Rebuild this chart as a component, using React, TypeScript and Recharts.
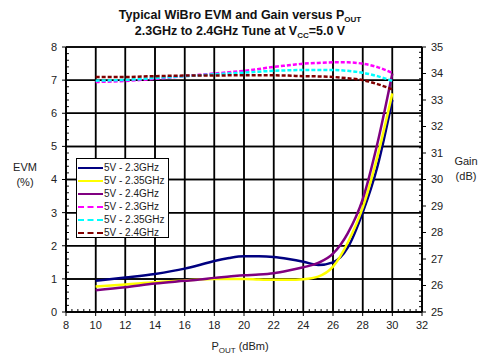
import React from 'react'
import { LineChart, Line, XAxis, YAxis, CartesianGrid } from 'recharts'

const pout = [10, 12, 14, 16, 17, 18, 19, 20, 21, 22, 23, 24, 25, 26, 27, 28, 29, 30]

const evm23 = [0.94, 1.04, 1.15, 1.31, 1.42, 1.54, 1.63, 1.68, 1.68, 1.66, 1.6, 1.52, 1.42, 1.5, 1.95, 3.0, 4.4, 6.4]
const evm235 = [0.77, 0.83, 0.9, 0.95, 0.98, 1.0, 1.0, 1.0, 0.98, 0.97, 0.97, 0.99, 1.07, 1.37, 2.1, 3.15, 4.7, 6.6]
const evm24 = [0.66, 0.75, 0.86, 0.94, 0.98, 1.03, 1.07, 1.11, 1.13, 1.17, 1.25, 1.35, 1.48, 1.76, 2.38, 3.4, 5.1, 7.2]

const gain23 = [33.68, 33.72, 33.8, 33.9, 33.95, 34.0, 34.05, 34.1, 34.17, 34.25, 34.31, 34.37, 34.4, 34.42, 34.42, 34.37, 34.24, 34.02]
const gain235 = [33.73, 33.76, 33.83, 33.9, 33.93, 33.97, 34.0, 34.03, 34.07, 34.1, 34.12, 34.13, 34.13, 34.13, 34.1, 34.03, 33.9, 33.72]
const gain24 = [33.87, 33.87, 33.9, 33.92, 33.92, 33.92, 33.93, 33.93, 33.93, 33.93, 33.92, 33.9, 33.89, 33.87, 33.82, 33.75, 33.6, 33.4]

const xTicks = [8, 10, 12, 14, 16, 18, 20, 22, 24, 26, 28, 30, 32]
const evmTicks = [0, 1, 2, 3, 4, 5, 6, 7, 8]
const gainTicks = [25, 26, 27, 28, 29, 30, 31, 32, 33, 34, 35]

const series = [
  { key: 'evm23', name: '5V - 2.3GHz', color: '#000080', axis: 0, dash: undefined, values: evm23 },
  { key: 'evm235', name: '5V - 2.35GHz', color: '#ffff00', axis: 0, dash: undefined, values: evm235 },
  { key: 'evm24', name: '5V - 2.4GHz', color: '#800080', axis: 0, dash: undefined, values: evm24 },
  { key: 'gain23', name: '5V - 2.3GHz', color: '#ff00ff', axis: 'r', dash: '4 2', values: gain23 },
  { key: 'gain235', name: '5V - 2.35GHz', color: '#00ffff', axis: 'r', dash: '4 2', values: gain235 },
  { key: 'gain24', name: '5V - 2.4GHz', color: '#800000', axis: 'r', dash: '4 2', values: gain24 },
]

const data = pout.map((x, i) => {
  const row: Record<string, number> = { x }
  series.forEach((s) => {
    row[s.key] = s.values[i]
  })
  return row
})

// grid drawn as one broken line through the axis scales (null = pen up)
type Pt = { x: number; g: number | null }
const gridPts: Pt[] = []
evmTicks.forEach((v) => gridPts.push({ x: 8, g: v }, { x: 32, g: v }, { x: 32, g: null }))
xTicks.forEach((t) => gridPts.push({ x: t, g: 0 }, { x: t, g: 8 }, { x: t, g: null }))

// minor ticks: 5 per major step, short marks pointing into the plot
const minorSteps = [0.2, 0.4, 0.6, 0.8]
const leftMinor: Pt[] = []
evmTicks.slice(0, -1).forEach((v) =>
  minorSteps.forEach((m) => leftMinor.push({ x: 8, g: v + m }, { x: 8.2, g: v + m }, { x: 8.2, g: null }))
)
const rightMinor: Pt[] = []
gainTicks.slice(0, -1).forEach((v) =>
  minorSteps.forEach((m) => rightMinor.push({ x: 31.8, g: v + m }, { x: 32, g: v + m }, { x: 32, g: null }))
)
const bottomMinor: Pt[] = []
xTicks.slice(0, -1).forEach((t) =>
  minorSteps.forEach((m) => bottomMinor.push({ x: t + 2 * m, g: 0 }, { x: t + 2 * m, g: 0.09 }, { x: t + 2 * m, g: null }))
)

const font = '"Liberation Sans", Arial, sans-serif'
const tickStyle = { fontSize: 11, fill: '#222', fontFamily: font }
const sub = { fontSize: 8, lineHeight: 0, verticalAlign: -3 }
const axisLine = { stroke: '#000', strokeWidth: 1.5 }

export default function App() {
  return (
    <div style={{ position: 'absolute', left: 0, top: 0, width: 483, height: 359, background: '#fff' }}>
      <LineChart width={483} height={359} data={data} margin={{ top: 47, left: 36, right: 31, bottom: 17 }}>
        <CartesianGrid stroke="#000" strokeWidth={1.5} />
        <XAxis
          dataKey="x"
          type="number"
          domain={[8, 32]}
          ticks={xTicks}
          interval={0}
          height={30}
          axisLine={axisLine}
          tickLine={{ stroke: '#000' }}
          tickSize={4}
          tickMargin={5}
          tick={tickStyle}
        />
        <YAxis domain={[0, 8]} ticks={evmTicks} interval={0} width={30} axisLine={axisLine} tickLine={{ stroke: '#000' }} tickSize={4} tickMargin={5} tick={tickStyle} />
        <YAxis
          yAxisId="r"
          orientation="right"
          domain={[25, 35]}
          ticks={gainTicks}
          interval={0}
          width={30}
          axisLine={axisLine}
          tickLine={{ stroke: '#000' }}
          tickSize={4}
          tickMargin={5}
          tick={tickStyle}
        />
        <Line data={gridPts} dataKey="g" type="linear" stroke="#000" strokeWidth={1.5} dot={false} activeDot={false} connectNulls={false} isAnimationActive={false} />
        <Line data={leftMinor} dataKey="g" type="linear" stroke="#000" strokeWidth={1} dot={false} activeDot={false} connectNulls={false} isAnimationActive={false} />
        <Line data={bottomMinor} dataKey="g" type="linear" stroke="#000" strokeWidth={1} dot={false} activeDot={false} connectNulls={false} isAnimationActive={false} />
        <Line data={rightMinor} yAxisId="r" dataKey="g" type="linear" stroke="#000" strokeWidth={1} dot={false} activeDot={false} connectNulls={false} isAnimationActive={false} />
        {series.map((s) => (
          <Line
            key={s.key}
            yAxisId={s.axis}
            dataKey={s.key}
            type="monotone"
            stroke={s.color}
            strokeWidth={2.5}
            strokeDasharray={s.dash}
            dot={false}
            isAnimationActive={false}
          />
        ))}
      </LineChart>
      <div style={{ position: 'absolute', left: 0, width: 480, top: 7, textAlign: 'center', fontFamily: font, fontWeight: 'bold', fontSize: 12.5, lineHeight: '16px', color: '#111' }}>
        <div>
          Typical WiBro EVM and Gain versus P<sub style={sub}>OUT</sub>
        </div>
        <div>
          2.3GHz to 2.4GHz Tune at V<sub style={sub}>CC</sub>=5.0 V
        </div>
      </div>
      <div style={{ position: 'absolute', left: 10, top: 160, width: 30, textAlign: 'center', fontFamily: font, fontSize: 11, lineHeight: '15px', color: '#222' }}>
        EVM
        <br />
        (%)
      </div>
      <div style={{ position: 'absolute', left: 450, top: 154, width: 32, textAlign: 'center', fontFamily: font, fontSize: 11, lineHeight: '15px', color: '#222' }}>
        Gain
        <br />
        (dB)
      </div>
      <div style={{ position: 'absolute', left: 0, width: 480, top: 339, textAlign: 'center', fontFamily: font, fontSize: 11, lineHeight: '14px', color: '#222' }}>
        P<sub style={sub}>OUT</sub> (dBm)
      </div>
      <div style={{ position: 'absolute', left: 76, top: 158, width: 91, height: 78, border: '1px solid #000', background: '#fff', fontFamily: font }}>
        {series.map((s, i) => (
          <div key={s.key} style={{ position: 'absolute', left: 1, top: 2 + i * 13, height: 13, display: 'flex', alignItems: 'center', fontSize: 10, color: '#222', whiteSpace: 'nowrap' }}>
            <span style={{ display: 'inline-block', width: 25, height: 0, marginRight: 1, borderTop: `2.5px ${s.dash ? 'dashed' : 'solid'} ${s.color}` }} />
            {s.name}
          </div>
        ))}
      </div>
    </div>
  )
}
